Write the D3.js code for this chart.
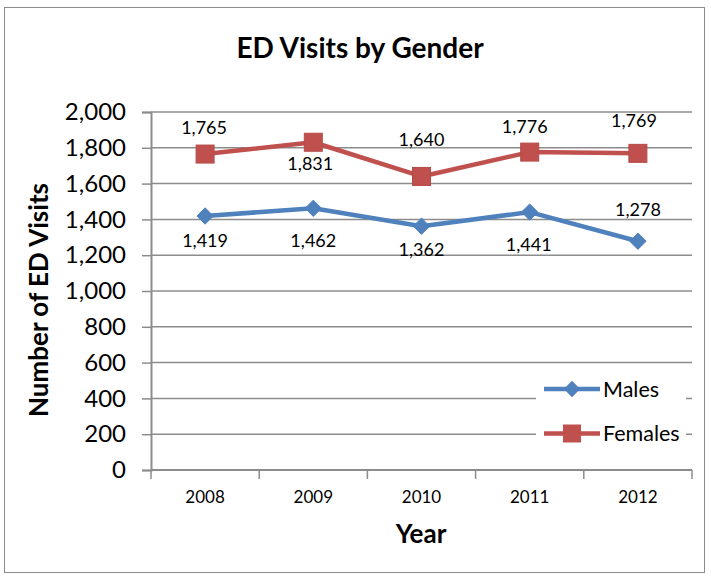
<!DOCTYPE html>
<html>
<head>
<meta charset="utf-8">
<script src="https://cdn.jsdelivr.net/npm/d3@7"></script>
<style>
  html, body { margin: 0; padding: 0; background: #fff; }
  svg text { font-family: Lato, "Open Sans", sans-serif; fill: #000; }
</style>
</head>
<body>
<svg id="chart" width="711" height="577"></svg>
<script>
// ---- data ----
const years = ["2008", "2009", "2010", "2011", "2012"];
const males = [1419, 1462, 1362, 1441, 1278];
const females = [1765, 1831, 1640, 1776, 1769];
const yTicks = [0, 200, 400, 600, 800, 1000, 1200, 1400, 1600, 1800, 2000];
const seriesNames = ["Males", "Females"];

// ---- layout / style ----
const W = 711, H = 577;
const plot = { left: 151, right: 692, top: 112, bottom: 470 };
const colors = { Males: "#4F81BD", Females: "#C0504D" };
const gridColor = "#8c8c8c";
// data label offsets (dx, dy from point) as placed in the reference
const femaleLabelOff = [[-1, -26], [-3, 21], [0, -37], [-5, -25], [-4, -33]];
const maleLabelOff = [[0, 25], [0, 32], [0, 23], [-1, 33], [0, -32]];

const svg = d3.select("#chart");

// outer border
svg.append("rect").attr("x", 4.5).attr("y", 7.5).attr("width", 700).attr("height", 565)
  .attr("fill", "#fff").attr("stroke", "#8c8c8c").attr("stroke-width", 1);

const x = d3.scalePoint().domain(years).range([plot.left, plot.right]).padding(0.5);
const xBand = d3.scaleBand().domain(years).range([plot.left, plot.right]);
const y = d3.scaleLinear().domain([0, 2000]).range([plot.bottom, plot.top]);

// gridlines
svg.append("g").selectAll("line").data(yTicks.filter(d => d > 0)).join("line")
  .attr("x1", plot.left).attr("x2", plot.right)
  .attr("y1", d => y(d)).attr("y2", d => y(d))
  .attr("stroke", gridColor).attr("stroke-width", 1.5);

// y axis
const yAxis = svg.append("g").attr("transform", `translate(${plot.left},0)`)
  .call(d3.axisLeft(y).tickValues(yTicks).tickFormat(d3.format(",")).tickSize(9).tickPadding(16));
yAxis.select(".domain").attr("stroke", gridColor).attr("stroke-width", 2);
yAxis.selectAll(".tick line").attr("stroke", gridColor).attr("stroke-width", 1.5);
yAxis.selectAll(".tick text").attr("font-size", 24).attr("font-family", "Lato, sans-serif").attr("fill", "#000");

// x axis
const xAxisG = svg.append("g").attr("transform", `translate(0,${plot.bottom})`);
xAxisG.append("line").attr("x1", plot.left).attr("x2", plot.right).attr("y1", 0).attr("y2", 0)
  .attr("stroke", gridColor).attr("stroke-width", 2);
const bounds = years.map(d => xBand(d)).concat([xBand(years[years.length - 1]) + xBand.bandwidth()]);
xAxisG.selectAll("line.tk").data(bounds).join("line").attr("class", "tk")
  .attr("x1", d => d).attr("x2", d => d).attr("y1", 0).attr("y2", 9)
  .attr("stroke", gridColor).attr("stroke-width", 1.5);
xAxisG.selectAll("text").data(years).join("text")
  .attr("x", d => x(d)).attr("y", 33).attr("text-anchor", "middle")
  .attr("font-size", 17).text(d => d);

// lines
const line = d3.line().x((d, i) => x(years[i])).y(d => y(d));
[["Males", males], ["Females", females]].forEach(([name, vals]) => {
  svg.append("path").datum(vals).attr("d", line).attr("fill", "none")
    .attr("stroke", colors[name]).attr("stroke-width", 4.5).attr("stroke-linejoin", "round");
});

// markers
const diamond = d3.symbol().type(d3.symbolDiamond2).size(170);
svg.append("g").selectAll("path").data(males).join("path")
  .attr("d", diamond).attr("transform", (d, i) => `translate(${x(years[i])},${y(d)})`)
  .attr("fill", colors.Males).attr("stroke", colors.Males).attr("stroke-width", 1);
svg.append("g").selectAll("rect").data(females).join("rect")
  .attr("x", (d, i) => x(years[i]) - 9).attr("y", d => y(d) - 9)
  .attr("width", 18).attr("height", 18)
  .attr("fill", colors.Females).attr("stroke", "#b54b48").attr("stroke-width", 1);

// data labels
const fmt = d3.format(",");
svg.append("g").selectAll("text").data(females).join("text")
  .attr("x", (d, i) => x(years[i]) + femaleLabelOff[i][0])
  .attr("y", (d, i) => y(d) + femaleLabelOff[i][1])
  .attr("dy", "0.35em").attr("text-anchor", "middle").attr("font-size", 18).text(d => fmt(d));
svg.append("g").selectAll("text").data(males).join("text")
  .attr("x", (d, i) => x(years[i]) + maleLabelOff[i][0])
  .attr("y", (d, i) => y(d) + maleLabelOff[i][1])
  .attr("dy", "0.35em").attr("text-anchor", "middle").attr("font-size", 18).text(d => fmt(d));

// legend
const legend = svg.append("g");
legend.append("rect").attr("x", 536).attr("y", 372).attr("width", 150).attr("height", 80).attr("fill", "#fff");
seriesNames.forEach((name, i) => {
  const ly = 389 + i * 44.5;
  legend.append("line").attr("x1", 544).attr("x2", 600).attr("y1", ly).attr("y2", ly)
    .attr("stroke", colors[name]).attr("stroke-width", 4.5);
  if (name === "Males") {
    legend.append("path").attr("d", diamond).attr("transform", `translate(572,${ly})`)
      .attr("fill", colors[name]);
  } else {
    legend.append("rect").attr("x", 563).attr("y", ly - 9).attr("width", 18).attr("height", 18)
      .attr("fill", colors[name]);
  }
  legend.append("text").attr("x", 603).attr("y", ly).attr("dy", "0.35em")
    .attr("font-size", 21.5).text(name);
});

// titles
svg.append("text").attr("x", 360).attr("y", 58).attr("text-anchor", "middle")
  .attr("font-size", 28).attr("font-weight", "bold").text("ED Visits by Gender");
svg.append("text").attr("x", 421).attr("y", 543).attr("text-anchor", "middle")
  .attr("font-size", 26).attr("font-weight", "bold").text("Year");
svg.append("text").attr("transform", "translate(48,300) rotate(-90)").attr("text-anchor", "middle")
  .attr("font-size", 26).attr("font-weight", "bold").text("Number of ED Visits");
</script>
</body>
</html>
